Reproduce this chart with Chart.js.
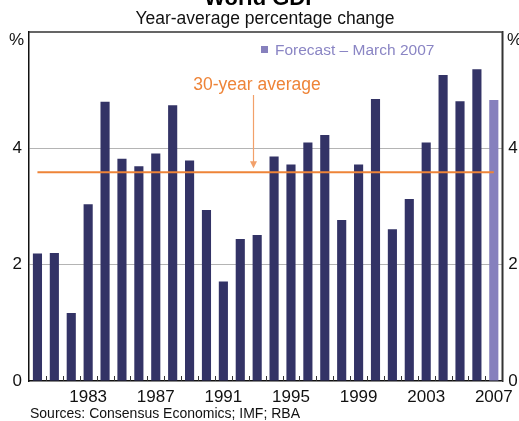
<!DOCTYPE html>
<html>
<head>
<meta charset="utf-8">
<script src="https://cdn.jsdelivr.net/npm/chart.js@4.4.1/dist/chart.umd.min.js"></script>
<style>
html,body{margin:0;padding:0;background:#fff;}
#wrap{position:relative;width:519px;height:421px;}
</style>
</head>
<body>
<div id="wrap"><canvas id="c" width="519" height="421"></canvas></div>
<script>
// ---- data ----
const years = [1980,1981,1982,1983,1984,1985,1986,1987,1988,1989,1990,1991,1992,1993,1994,1995,1996,1997,1998,1999,2000,2001,2002,2003,2004,2005,2006,2007];
const growth = [2.19,2.20,1.17,3.04,4.80,3.82,3.69,3.91,4.74,3.79,2.94,1.71,2.44,2.51,3.86,3.72,4.10,4.23,2.77,3.72,4.85,2.61,3.13,4.10,5.26,4.81,5.36,4.83];
const forecastYears = [2007];
const averageValue = 3.59;
const xTickLabels = [1983,1987,1991,1995,1999,2003,2007];
const yTickLabels = [0,2,4];

const titleText = 'World GDP';
const subtitleText = 'Year-average percentage change';
const legendText = 'Forecast \u2013 March 2007';
const avgText = '30-year average';
const sourceText = 'Sources: Consensus Economics; IMF; RBA';

const NAVY = '#333366';
const FORECAST = '#8680bd';
const ORANGE = '#ee8438';
const FONT = "'Liberation Sans', Arial, Helvetica, sans-serif";

const labels = years.map(String);
const barColors = years.map(y => forecastYears.includes(y) ? FORECAST : NAVY);
const avgLine = years.map(() => averageValue);

const decor = {
  id: 'decor',
  beforeDraw(chart) {
    const ctx = chart.ctx;
    ctx.save();
    ctx.fillStyle = '#fff';
    ctx.fillRect(0, 0, chart.width, chart.height);
    ctx.restore();
  },
  afterDatasetsDraw(chart) {
    const ctx = chart.ctx;
    const a = chart.chartArea;
    const xs = chart.scales.x;
    const ys = chart.scales.y;
    ctx.save();
    // x tick marks at category boundaries, pointing up into plot
    ctx.strokeStyle = '#333';
    ctx.lineWidth = 1;
    for (let i = 1; i < years.length; i++) {
      const x = Math.round((xs.getPixelForValue(i - 1) + xs.getPixelForValue(i)) / 2) + 0.5;
      ctx.beginPath();
      ctx.moveTo(x, a.bottom);
      ctx.lineTo(x, a.bottom - 5);
      ctx.stroke();
    }
    // top and right frame
    ctx.strokeStyle = '#333';
    ctx.lineWidth = 1.5;
    ctx.beginPath();
    ctx.moveTo(a.left, a.top);
    ctx.lineTo(a.right, a.top);
    ctx.lineTo(a.right, a.bottom);
    ctx.stroke();

    // arrow annotation
    const step = xs.getPixelForValue(1) - xs.getPixelForValue(0);
    const ax = Math.round(xs.getPixelForValue(12) + 0.76 * step) + 0.5;
    const tipY = ys.getPixelForValue(averageValue) - 4;
    ctx.strokeStyle = '#f2a06a';
    ctx.fillStyle = '#f2a06a';
    ctx.lineWidth = 1.2;
    ctx.beginPath();
    ctx.moveTo(ax, 95);
    ctx.lineTo(ax, tipY - 5);
    ctx.stroke();
    ctx.beginPath();
    ctx.moveTo(ax - 3.5, tipY - 7);
    ctx.lineTo(ax + 3.5, tipY - 7);
    ctx.lineTo(ax, tipY);
    ctx.closePath();
    ctx.fill();
    ctx.fillStyle = ORANGE;
    ctx.font = '17.5px ' + FONT;
    ctx.textAlign = 'center';
    ctx.textBaseline = 'alphabetic';
    ctx.fillText(avgText, 257, 90);
    ctx.restore();
  },
  afterDraw(chart) {
    const ctx = chart.ctx;
    ctx.save();
    ctx.textBaseline = 'alphabetic';
    // title (cut at top)
    ctx.fillStyle = '#000';
    ctx.font = 'bold 22px ' + FONT;
    ctx.textAlign = 'center';
    ctx.fillText(titleText, 262, 5);
    ctx.font = '17.5px ' + FONT;
    ctx.fillStyle = '#111';
    ctx.fillText(subtitleText, 265, 24);
    // % labels
    ctx.font = '17px ' + FONT;
    ctx.textAlign = 'left';
    ctx.fillText('%', 9, 45);
    ctx.fillText('%', 507, 45);
    // legend
    ctx.fillStyle = FORECAST;
    ctx.fillRect(261, 46, 7, 7);
    ctx.font = '15.5px ' + FONT;
    ctx.fillStyle = '#8a85c4';
    ctx.fillText(legendText, 275, 55);
    // sources
    ctx.fillStyle = '#111';
    ctx.font = '14px ' + FONT;
    ctx.fillText(sourceText, 30, 418);
    ctx.restore();
  }
};

new Chart(document.getElementById('c'), {
  data: {
    labels: labels,
    datasets: [
      {
        type: 'line',
        data: avgLine,
        borderColor: ORANGE,
        borderWidth: 2,
        pointRadius: 0,
        fill: false,
        order: 0
      },
      {
        type: 'bar',
        data: growth,
        backgroundColor: barColors,
        borderWidth: 0,
        barPercentage: 0.54,
        categoryPercentage: 1,
        order: 1
      }
    ]
  },
  options: {
    responsive: false,
    animation: false,
    devicePixelRatio: 1,
    layout: { padding: { top: 32, left: 0, right: 0, bottom: 0 } },
    plugins: { legend: { display: false }, tooltip: { enabled: false }, title: { display: false } },
    scales: {
      x: {
        type: 'category',
        offset: true,
        grid: { display: false, drawTicks: false },
        border: { display: true, color: '#111', width: 1.5 },
        ticks: {
          autoSkip: false,
          maxRotation: 0,
          padding: 6,
          color: '#111',
          font: { family: FONT, size: 17 },
          callback: function(v, i) { return xTickLabels.includes(years[i]) ? String(years[i]) : ''; }
        },
        afterFit(s) { s.height = 40; }
      },
      y: {
        position: 'left',
        min: 0, max: 6,
        afterBuildTicks(s) { s.ticks = yTickLabels.concat([6]).map(v => ({ value: v })); },
        grid: {
          drawTicks: false,
          color: c => (c.tick && (c.tick.value === 2 || c.tick.value === 4)) ? '#b4b4b4' : 'rgba(0,0,0,0)',
          lineWidth: 1
        },
        border: { display: true, color: '#111', width: 1.5 },
        ticks: {
          padding: 7,
          color: '#111',
          font: { family: FONT, size: 17 },
          callback: v => yTickLabels.includes(v) ? String(v) : ''
        },
        afterFit(s) { s.width = 29; }
      },
      y2: {
        position: 'right',
        min: 0, max: 6,
        afterBuildTicks(s) { s.ticks = yTickLabels.concat([6]).map(v => ({ value: v })); },
        grid: { display: false, drawTicks: false },
        border: { display: true, color: '#333', width: 1.5 },
        ticks: {
          padding: 6,
          color: '#111',
          font: { family: FONT, size: 17 },
          callback: v => yTickLabels.includes(v) ? String(v) : ''
        },
        afterFit(s) { s.width = 16; }
      }
    }
  },
  plugins: [decor]
});
</script>
</body>
</html>
